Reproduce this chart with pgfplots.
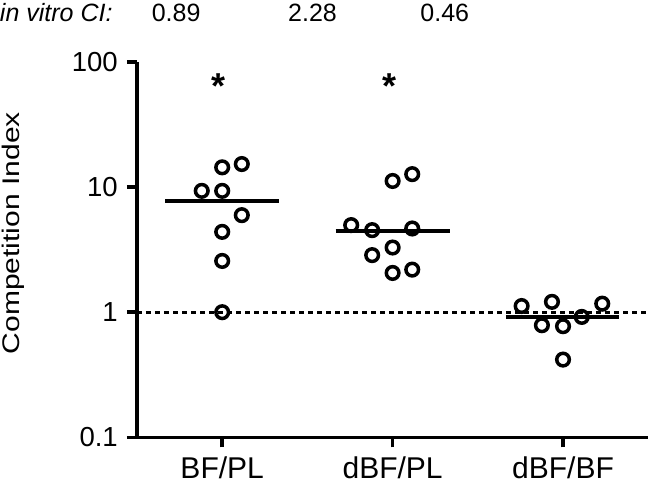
\documentclass[border=0pt]{standalone}
\usepackage{fontspec}
\setmainfont{Liberation Sans}
\usepackage{graphicx}
\usepackage{pgfplots}
\pgfplotsset{compat=1.18}
\begin{document}
\begin{tikzpicture}
\begin{axis}[
  scale only axis, width=511pt, height=375pt,
  ymode=log, ymin=0.1, ymax=100,
  xmin=-0.5, xmax=2.5,
  axis lines=left,
  axis line style={line width=3.5pt, -},
  xtick={0,1,2}, xticklabels={BF/PL,dBF/PL,dBF/BF},
  ytick={0.1,1,10,100}, yticklabels={0.1,1,10,100},
  yminorticks=false,
  tick align=outside, major tick length=10pt,
  every tick/.style={line width=3.5pt, black},
  yticklabel style={font=\fontsize{27.5}{30}\selectfont, inner sep=0pt, anchor=east, xshift=-9pt},
  xticklabel style={font=\fontsize{30}{32}\selectfont, inner sep=0pt, anchor=north, text height=21.5pt, text depth=3pt, yshift=-10pt},
  /pgf/number format/assume math mode=true,
  ylabel={\scalebox{1}[0.8]{Competition Index}},
  ylabel style={font=\fontsize{30}{33}\selectfont, at={(axis description cs:-0.2642,0.544)}, anchor=north, inner sep=0pt, text height=17.5pt},
  clip=false,
]
% reference line at 1
\addplot[line width=2.8pt, dash pattern=on 5pt off 4pt, black] coordinates {(-0.5,1) (2.5,1)};
% medians
\addplot[line width=4pt, black] coordinates {(-0.335,7.69) (0.335,7.69)};
\addplot[line width=4pt, black] coordinates {(0.665,4.47) (1.335,4.47)};
\addplot[line width=4pt, black] coordinates {(1.665,0.917) (2.33,0.917)};
% data
\addplot[only marks, mark=o, mark size=6.3pt, mark options={line width=3.5pt, black}] coordinates {
 (0.115,15.3) (0,14.4) (-0.12,9.34) (0,9.34) (0.115,5.97) (0,4.39) (0,2.57) (0,1.0)
};
\addplot[only marks, mark=o, mark size=6.3pt, mark options={line width=3.5pt, black}] coordinates {
 (1.115,12.7) (1,11.2) (0.757,4.97) (0.88,4.53) (1.115,4.67) (1,3.29) (0.88,2.86) (1,2.06) (1.115,2.19)
};
\addplot[only marks, mark=o, mark size=6.3pt, mark options={line width=3.5pt, black}] coordinates {
 (1.757,1.12) (1.935,1.21) (2.23,1.17) (1.876,0.787) (2,0.773) (2.11,0.917) (2,0.418)
};
% significance
\node[anchor=base, font=\fontsize{36}{38}\selectfont\bfseries] at (axis cs:-0.02,51) {*};
\node[anchor=base, font=\fontsize{36}{38}\selectfont\bfseries] at (axis cs:0.98,51) {*};
% in vitro CI
\node[anchor=base west, inner sep=0pt, text height=21pt, font=\fontsize{25}{28}\selectfont\itshape] at (axis cs:-1.305,213) {in vitro CI:};
\node[anchor=base, inner sep=0pt, text height=21pt, font=\fontsize{25}{28}\selectfont] at (axis cs:-0.27,213) {0.89};
\node[anchor=base, inner sep=0pt, text height=21pt, font=\fontsize{25}{28}\selectfont] at (axis cs:0.53,213) {2.28};
\node[anchor=base, inner sep=0pt, text height=21pt, font=\fontsize{25}{28}\selectfont] at (axis cs:1.306,213) {0.46};
\end{axis}
\end{tikzpicture}
\end{document}
